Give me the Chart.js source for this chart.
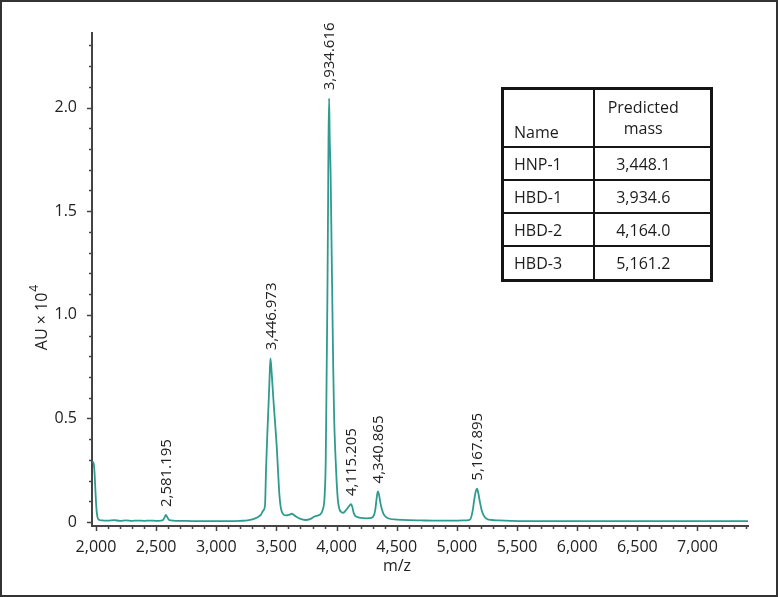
<!DOCTYPE html>
<html>
<head>
<meta charset="utf-8">
<script src="https://cdn.jsdelivr.net/npm/chart.js@4.4.1/dist/chart.umd.min.js"></script>
<style>
  html, body { margin:0; padding:0; background:#fff; }
  #wrap { position:relative; width:778px; height:597px; font-family:"Open Sans", sans-serif; }
  #chart { position:absolute; left:0; top:0; }
  #frame { position:absolute; left:0; top:0; width:778px; height:597px; box-sizing:border-box; border:2px solid #333; pointer-events:none; }
  #massTable { position:absolute; left:501px; top:87px; border-collapse:collapse; border:3px solid #151515; font-size:16px; color:#1c1c1c; }
  #massTable td { border:2px solid #151515; padding:0; line-height:18px; }
  #massTable td.name { width:79px; padding-left:10px; text-align:left; }
  #massTable td.mass { width:117px; text-align:center; padding-right:18px; box-sizing:border-box; }
  #massTable tr.head td { height:51px; vertical-align:bottom; padding-bottom:5px; }
  #massTable tr.head td.mass { vertical-align:middle; padding-bottom:0; height:56px; line-height:21px; }
  #massTable tr.row td { height:31px; }
  #massTable tr.row.last td { height:32px; }
</style>
</head>
<body>
<div id="wrap">
  <canvas id="chart" width="778" height="597"></canvas>
  <table id="massTable"></table>
  <div id="frame"></div>
</div>
<script>
// spectrum (m/z, intensity in AU x 10^4)
const mz = [1970, 1975, 1982, 1988, 1994, 2000, 2006, 2012, 2020, 2030, 2050, 2100, 2150, 2200, 2250, 2300, 2350, 2400, 2450, 2500,
  2540, 2560, 2572, 2581, 2592, 2605, 2625, 2660, 2700, 2800, 2900, 3000, 3100, 3200, 3260, 3300, 3340, 3370, 3390, 3405,
  3414, 3424, 3434, 3442, 3450, 3457, 3465, 3475, 3490, 3503, 3515, 3525, 3535, 3545, 3560, 3580, 3605, 3628, 3660, 3700,
  3740, 3780, 3820, 3860, 3885, 3900, 3910, 3918, 3924, 3929, 3933, 3938, 3943, 3950, 3958, 3965, 3972, 3980, 3990, 4000,
  4012, 4025, 4040, 4056, 4075, 4095, 4108, 4120, 4130, 4142, 4155, 4175, 4200, 4250, 4290, 4310, 4322, 4332, 4343, 4352,
  4362, 4375, 4390, 4410, 4440, 4500, 4600, 4700, 4800, 4900, 5000, 5080, 5110, 5130, 5145, 5158, 5168, 5178, 5192, 5206,
  5225, 5250, 5290, 5350, 5450, 5600, 6000, 6500, 7000, 7420];
const intensity = [0.29, 0.29, 0.28, 0.24, 0.17, 0.10, 0.05, 0.025, 0.014, 0.010, 0.008, 0.007, 0.009, 0.006, 0.008, 0.006, 0.007, 0.006, 0.007, 0.006,
  0.007, 0.012, 0.025, 0.034, 0.024, 0.012, 0.008, 0.006, 0.006, 0.005, 0.005, 0.005, 0.005, 0.006, 0.008, 0.013, 0.022, 0.035, 0.055, 0.08,
  0.26, 0.42, 0.56, 0.68, 0.79, 0.75, 0.68, 0.59, 0.47, 0.36, 0.23, 0.13, 0.075, 0.05, 0.036, 0.032, 0.035, 0.040, 0.028, 0.015,
  0.010, 0.014, 0.028, 0.035, 0.06, 0.12, 0.30, 0.75, 1.10, 1.50, 1.85, 2.045, 1.85, 1.70, 1.35, 1.05, 0.75, 0.50, 0.33, 0.20,
  0.10, 0.06, 0.048, 0.045, 0.055, 0.07, 0.08, 0.087, 0.075, 0.045, 0.030, 0.024, 0.020, 0.018, 0.020, 0.032, 0.06, 0.11, 0.148, 0.135,
  0.10, 0.065, 0.040, 0.025, 0.016, 0.012, 0.009, 0.008, 0.007, 0.007, 0.007, 0.008, 0.012, 0.05, 0.11, 0.15, 0.161, 0.14, 0.095, 0.057,
  0.030, 0.015, 0.010, 0.008, 0.006, 0.005, 0.005, 0.005, 0.005, 0.005];

// annotated peaks
const peakMz = [2581, 3450, 3938, 4120, 4343, 5168];
const peakLabels = ['2,581.195', '3,446.973', '3,934.616', '4,115.205', '4,340.865', '5,167.895'];

// axes
const xTicks = [2000, 2500, 3000, 3500, 4000, 4500, 5000, 5500, 6000, 6500, 7000];
const yTicks = [0, 0.5, 1.0, 1.5, 2.0];
const xMinorStep = 100, yMinorStep = 0.1;

// inset table
const tableHead = ['Name', 'Predicted\nmass'];
const tableNames = ['HNP-1', 'HBD-1', 'HBD-2', 'HBD-3'];
const tableMass = ['3,448.1', '3,934.6', '4,164.0', '5,161.2'];

const FONT = '"Open Sans", sans-serif';
const AXIS = '#444';
const TEXT = '#222';

/* build the table */
(function(){
  const t = document.getElementById('massTable');
  let html = `<tr class="head"><td class="name">${tableHead[0]}</td><td class="mass">${tableHead[1].replace('\n','<br>')}</td></tr>`;
  tableNames.forEach((n,i)=> {
    const cls = i === tableNames.length - 1 ? 'row last' : 'row';
    html += `<tr class="${cls}"><td class="name">${n}</td><td class="mass">${tableMass[i]}</td></tr>`;
  });
  t.innerHTML = html;
})();

/* peak value near a given m/z, taken from the series */
function peakHeight(center){
  let best = 0;
  mz.forEach((m,i)=>{ if(Math.abs(m-center) <= 15 && intensity[i] > best) best = intensity[i]; });
  return best;
}

const extras = {
  id: 'extras',
  afterDraw(chart){
    const {ctx, chartArea:a, scales:{x, y}} = chart;
    ctx.save();
    // minor / major ticks
    ctx.strokeStyle = AXIS; ctx.lineWidth = 1.5;
    ctx.beginPath();
    for(let v = 2000; v <= 7400; v += xMinorStep){
      const px = Math.round(x.getPixelForValue(v)) + 0.5;
      const len = (v % 500 === 0) ? 5 : 3;
      ctx.moveTo(px, a.bottom); ctx.lineTo(px, a.bottom + len);
    }
    for(let i = 0; i <= 23; i++){
      const v = i * yMinorStep;
      const py = Math.round(y.getPixelForValue(v)) + 0.5;
      const len = (i % 5 === 0) ? 5 : 3;
      ctx.moveTo(a.left - len, py); ctx.lineTo(a.left, py);
    }
    ctx.stroke();

    // peak labels
    ctx.fillStyle = TEXT;
    ctx.font = '15px ' + FONT;
    ctx.textAlign = 'left';
    ctx.textBaseline = 'middle';
    peakMz.forEach((m,i)=>{
      const px = x.getPixelForValue(m);
      const py = y.getPixelForValue(peakHeight(m)) - 8;
      ctx.save();
      ctx.translate(px, py);
      ctx.rotate(-Math.PI/2);
      ctx.fillText(peakLabels[i], 0, 1);
      ctx.restore();
    });

    // axis titles
    ctx.font = '16px ' + FONT;
    ctx.textAlign = 'center';
    ctx.fillText('m/z', 397, 566);
    ctx.save();
    ctx.translate(42, 318);
    ctx.rotate(-Math.PI/2);
    ctx.textAlign = 'left';
    const main = 'AU × 10';
    const w = ctx.measureText(main).width;
    ctx.font = '12px ' + FONT;
    const ws = ctx.measureText('4').width;
    const start = -(w + ws)/2;
    ctx.font = '16px ' + FONT;
    ctx.fillText(main, start, 0);
    ctx.font = '12px ' + FONT;
    ctx.fillText('4', start + w + 1, -7);
    ctx.restore();
    ctx.restore();
  }
};

new Chart(document.getElementById('chart'), {
  type: 'line',
  data: {
    datasets: [{
      data: mz.map((m,i)=> ({x:m, y:intensity[i]})),
      borderColor: '#2e9b8e',
      borderWidth: 1.8,
      pointRadius: 0,
      cubicInterpolationMode: 'monotone',
      fill: false
    }]
  },
  options: {
    responsive: false,
    animation: false,
    layout: { padding: { top: 33, right: 30, left: 0, bottom: 0 } },
    plugins: { legend: { display: false }, tooltip: { enabled: false } },
    scales: {
      x: {
        type: 'linear', min: 1967, max: 7420,
        afterBuildTicks: s => { s.ticks = xTicks.map(v => ({value: v})); },
        afterFit: s => { s.height = 71; },
        grid: { display: false },
        border: { display: true, color: AXIS, width: 2 },
        ticks: { callback: v => v.toLocaleString('en-US'), color: TEXT, font: { family: FONT, size: 16 }, padding: 4, maxRotation: 0, autoSkip: false }
      },
      y: {
        type: 'linear', min: -0.019, max: 2.36,
        afterBuildTicks: s => { s.ticks = yTicks.map(v => ({value: v})); },
        afterFit: s => { s.width = 92; },
        grid: { display: false },
        border: { display: true, color: AXIS, width: 2 },
        ticks: { callback: v => v === 0 ? '0' : v.toFixed(1), color: TEXT, font: { family: FONT, size: 16 }, padding: 7 }
      }
    }
  },
  plugins: [extras]
});
</script>
</body>
</html>
